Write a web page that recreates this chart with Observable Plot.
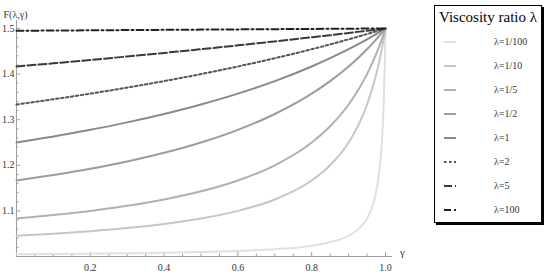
<!DOCTYPE html>
<html><head><meta charset="utf-8">
<script src="https://cdn.jsdelivr.net/npm/d3@7"></script>
<script src="https://cdn.jsdelivr.net/npm/@observablehq/plot@0.6"></script>
<style>
body{margin:0;background:#fff;}
#wrap{position:relative;width:550px;height:274px;overflow:hidden;font-family:"Liberation Serif","DejaVu Serif",serif;}
#wrap svg{position:absolute;left:0;top:0;}
#legend{position:absolute;left:434px;top:5px;width:108px;height:218px;border:1px solid #000;box-shadow:2px 2px 0 #000;background:#fff;box-sizing:border-box;}
#legend .title{position:absolute;left:0;width:106px;top:3px;text-align:center;font-size:15px;color:#000;}
#legend .row{position:absolute;left:0;width:106px;height:14px;}
#legend .row svg{position:absolute;left:8px;top:0;}
#legend .row span{position:absolute;left:59px;top:0;line-height:14px;font-size:10px;color:#333;}
</style></head>
<body><div id="wrap"><div id="legend"></div></div>
<script>
// γ sample positions
const gamma = [0, 0.1, 0.2, 0.3, 0.4, 0.5, 0.6, 0.7, 0.8, 0.85, 0.9, 0.93, 0.95, 0.97, 0.98, 0.99, 0.995, 0.998, 1.0];
// F(λ,γ)
const F_1_100 = [1.005, 1.0055, 1.0062, 1.007, 1.0082, 1.0098, 1.0122, 1.0161, 1.0238, 1.0313, 1.0455, 1.0625, 1.0833, 1.125, 1.1667, 1.25, 1.3333, 1.4167, 1.5];
const F_1_10  = [1.0455, 1.05, 1.0556, 1.0625, 1.0714, 1.0833, 1.1, 1.125, 1.1667, 1.2, 1.25, 1.2941, 1.3333, 1.3846, 1.4167, 1.4545, 1.4762, 1.4902, 1.5];
const F_1_5   = [1.0833, 1.0909, 1.1, 1.1111, 1.125, 1.1429, 1.1667, 1.2, 1.25, 1.2857, 1.3333, 1.3704, 1.4, 1.4348, 1.4545, 1.4762, 1.4878, 1.495, 1.5];
const F_1_2   = [1.1667, 1.1786, 1.1923, 1.2083, 1.2273, 1.25, 1.2778, 1.3125, 1.3571, 1.3846, 1.4167, 1.4386, 1.4545, 1.4717, 1.4808, 1.4902, 1.495, 1.498, 1.5];
const F_1     = [1.25, 1.2632, 1.2778, 1.2941, 1.3125, 1.3333, 1.3571, 1.3846, 1.4167, 1.4348, 1.4545, 1.4673, 1.4762, 1.4854, 1.4902, 1.495, 1.4975, 1.499, 1.5];
const F_2     = [1.3333, 1.3448, 1.3571, 1.3704, 1.3846, 1.4, 1.4167, 1.4348, 1.4545, 1.4651, 1.4762, 1.4831, 1.4878, 1.4926, 1.495, 1.4975, 1.4988, 1.4995, 1.5];
const F_5     = [1.4167, 1.4237, 1.431, 1.4386, 1.4464, 1.4545, 1.463, 1.4717, 1.4808, 1.4854, 1.4902, 1.4931, 1.495, 1.497, 1.498, 1.499, 1.4995, 1.4998, 1.5];
const F_100   = [1.495, 1.4955, 1.496, 1.4965, 1.497, 1.4975, 1.498, 1.4985, 1.499, 1.4993, 1.4995, 1.4997, 1.4998, 1.4999, 1.4999, 1.5, 1.5, 1.5, 1.5];

const seriesLabels = ["λ=1/100", "λ=1/10", "λ=1/5", "λ=1/2", "λ=1", "λ=2", "λ=5", "λ=100"];
const seriesValues = [F_1_100, F_1_10, F_1_5, F_1_2, F_1, F_2, F_5, F_100];
const seriesColors = ["#e0e0e0", "#c6c6c6", "#b0b0b0", "#9c9c9c", "#8a8a8a", "#555555", "#3a3a3a", "#222222"];
const seriesDash   = [null, null, null, null, null, "2.5,2.5", "8,3", "7,3,2,3"];

const xMajor = [0.2, 0.4, 0.6, 0.8, 1.0];
const yMajor = [1.1, 1.2, 1.3, 1.4, 1.5];
const xLabels = ["0.2", "0.4", "0.6", "0.8", "1.0"];
const yLabels = ["1.1", "1.2", "1.3", "1.4", "1.5"];

const yLo = 1.0, yHi = 1.5175, xHi = 1.019;
const W = 550, H = 274, mL = 16, mR = 165, mT = 20, mB = 18;
const pxPerX = (W - mL - mR) / 1.0;
const pxPerY = (H - mT - mB) / (yHi - yLo);

const xMinor = d3.range(1, 21).map(i => i * 0.05).filter(v => !xMajor.some(m => Math.abs(m - v) < 1e-6));
const yMinor = d3.range(1, 26).map(i => 1 + i * 0.02).filter(v => v <= 1.5001 && !yMajor.some(m => Math.abs(m - v) < 1e-6));

const axisColor = "#a0a0a0";
const serif = "Liberation Serif, DejaVu Serif, serif";
const marks = [
  Plot.ruleY([yLo], {x1: 0, x2: xHi, stroke: axisColor, strokeWidth: 1}),
  Plot.ruleX([0], {y1: yLo, y2: yHi, stroke: axisColor, strokeWidth: 1}),
  Plot.ruleX(xMajor, {x: d => d, y1: yLo, y2: yLo + 4 / pxPerY, stroke: axisColor}),
  Plot.ruleX(xMinor, {x: d => d, y1: yLo, y2: yLo + 2.5 / pxPerY, stroke: axisColor}),
  Plot.ruleY(yMajor, {y: d => d, x1: 0, x2: 4 / pxPerX, stroke: axisColor}),
  Plot.ruleY(yMinor, {y: d => d, x1: 0, x2: 2.5 / pxPerX, stroke: axisColor}),
  Plot.text(xMajor, {x: d => d, y: yLo, text: (d, i) => xLabels[i], dy: 11, fontSize: 10, fill: "#333", fontFamily: serif}),
  Plot.text(yMajor, {x: 0, y: d => d, text: (d, i) => yLabels[i], dx: -2, textAnchor: "end", fontSize: 10, fill: "#333", fontFamily: serif}),
  Plot.text(["F(λ,γ)"], {frameAnchor: "top-left", dx: -13, dy: -10, textAnchor: "start", fontSize: 10, fill: "#333", fontFamily: serif}),
  Plot.text(["γ"], {x: xHi, y: yLo, dx: 10, dy: -4, fontSize: 11, fill: "#333", fontFamily: serif})
];

seriesValues.forEach((vals, k) => {
  const rows = gamma.map((g, i) => ({g, F: vals[i]}));
  marks.push(Plot.line(rows, {x: "g", y: "F", stroke: seriesColors[k], strokeWidth: 2,
    strokeDasharray: seriesDash[k] || undefined, curve: "monotone-x"}));
});

const chart = Plot.plot({
  width: W, height: H, marginLeft: mL, marginRight: mR, marginTop: mT, marginBottom: mB,
  x: {domain: [0, 1], axis: null},
  y: {domain: [yLo, yHi], axis: null},
  style: {background: "transparent", overflow: "visible", fontFamily: serif},
  marks
});
const wrap = document.getElementById("wrap");
wrap.insertBefore(chart, wrap.firstChild);

// legend
const leg = document.getElementById("legend");
const t = document.createElement("div");
t.className = "title"; t.textContent = "Viscosity ratio λ";
leg.appendChild(t);
seriesLabels.forEach((lab, k) => {
  const r = document.createElement("div");
  r.className = "row";
  r.style.top = (29 + 24 * k) + "px";
  const dash = seriesDash[k] ? ` stroke-dasharray="${seriesDash[k]}"` : "";
  r.innerHTML = `<svg width="14" height="14"><line x1="1" x2="13" y1="7" y2="7" stroke="${seriesColors[k]}" stroke-width="2"${dash}/></svg><span>${lab}</span>`;
  leg.appendChild(r);
});
</script>
</body></html>
